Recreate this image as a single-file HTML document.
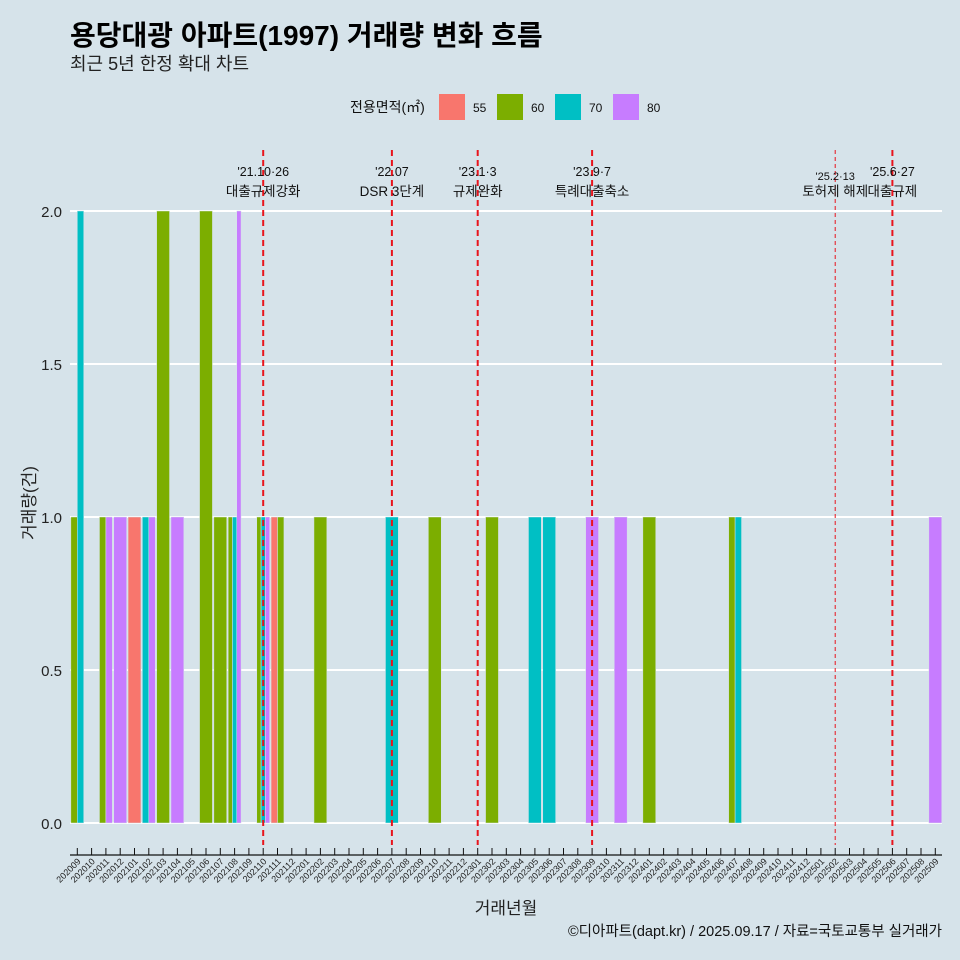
<!DOCTYPE html>
<html><head><meta charset="utf-8"><style>
html,body{margin:0;padding:0;background:#d6e3ea;}
svg{display:block;font-family:"Liberation Sans","Noto Sans CJK KR",sans-serif;}
</style></head><body>
<svg id="chart" width="960" height="960" viewBox="0 0 960 960">
<rect width="960" height="960" fill="#d6e3ea"/>
<text x="70" y="45" font-size="28" font-weight="bold" fill="#000">용당대광 아파트(1997) 거래량 변화 흐름</text>
<text x="70" y="70" font-size="18" fill="#222">최근 5년 한정 확대 차트</text>
<g id="legend">
<text x="350" y="112" font-size="14" fill="#111">전용면적(㎡)</text>
</g>
<g id="grid"></g><g id="bars"></g><g id="events"></g><g id="axes"></g>
<text x="506" y="914" font-size="17" text-anchor="middle" fill="#222">거래년월</text>
<text transform="translate(35,503) rotate(-90)" font-size="17" text-anchor="middle" fill="#222">거래량(건)</text>
<text x="942" y="936" font-size="14.5" text-anchor="end" fill="#111">©디아파트(dapt.kr) / 2025.09.17 / 자료=국토교통부 실거래가</text>
</svg>
<script>
const months = [];
for (let y = 2020, m = 9; months.length < 61; m++) { if (m > 12) { m = 1; y++; } months.push(String(y) + String(m).padStart(2, '0')); }
const areas = ['55', '60', '70', '80'];
const colors = ['#f8766d', '#7cae00', '#00bfc4', '#c77cff'];
const c55 = [0,0,0,0,1,0,0,0,0,0,0,0,0,0,1,0,0,0,0,0,0,0,0,0,0,0,0,0,0,0,0,0,0,0,0,0,0,0,0,0,0,0,0,0,0,0,0,0,0,0,0,0,0,0,0,0,0,0,0,0,0];
const c60 = [1,0,1,0,0,0,2,0,0,2,1,1,0,1,1,0,0,1,0,0,0,0,0,0,0,1,0,0,0,1,0,0,0,0,0,0,0,0,0,0,1,0,0,0,0,0,1,0,0,0,0,0,0,0,0,0,0,0,0,0,0];
const c70 = [2,0,0,0,0,1,0,0,0,0,0,1,0,1,0,0,0,0,0,0,0,0,1,0,0,0,0,0,0,0,0,0,1,1,0,0,0,0,0,0,0,0,0,0,0,0,1,0,0,0,0,0,0,0,0,0,0,0,0,0,0];
const c80 = [0,0,1,1,0,1,0,1,0,0,0,2,0,1,0,0,0,0,0,0,0,0,0,0,0,0,0,0,0,0,0,0,0,0,0,0,1,0,1,0,0,0,0,0,0,0,0,0,0,0,0,0,0,0,0,0,0,0,0,0,1];
const yTicks = [0, 0.5, 1.0, 1.5, 2.0];
const eventMonths = ['202110', '202207', '202301', '202309', '202502', '202506'];
const eventDates = ["'21.10·26", "'22.07", "'23.1·3", "'23.9·7", "'25.2·13", "'25.6·27"];
const eventLabels = ['대출규제강화', 'DSR 3단계', '규제완화', '특례대출축소', '토허제 해제', '대출규제'];
const eventThin = [false, false, false, false, true, false];

const NS = 'http://www.w3.org/2000/svg';
const step = 14.3, x0 = 77.3;
const xScale = i => x0 + i * step;
const yScale = v => 823 - v * 306;
function mk(tag, attrs, parent, text) {
  const e = document.createElementNS(NS, tag);
  for (const k in attrs) e.setAttribute(k, attrs[k]);
  if (text !== undefined) e.textContent = text;
  parent.appendChild(e); return e;
}
const series = [c55, c60, c70, c80];
const lg = document.getElementById('legend');
const lx = [439, 497, 555, 613];
areas.forEach((a, k) => {
  const r = mk('rect', {x: lx[k], y: 94, width: 26, height: 26, fill: colors[k]}, lg);
  
  
  const t = mk('text', {x: lx[k] + 34, y: 112, 'font-size': 12, fill: '#111'}, lg, a);
  
  
});
const grid = document.getElementById('grid');
yTicks.forEach(v => {
  const l = mk('line', {x1: 70, x2: 942, y1: yScale(v), y2: yScale(v), stroke: '#fff', 'stroke-width': 2}, grid);
  
  
  const t = mk('text', {x: 62, y: yScale(v) + 6, 'font-size': 15, 'text-anchor': 'end', fill: '#222'}, grid, v.toFixed(1));
  
  
});
const bg = document.getElementById('bars');
months.forEach((mo, i) => {
  const present = [];
  series.forEach((s, k) => { if (s[i] > 0) present.push(k); });
  if (!present.length) return;
  const w = 0.9 * step / present.length;
  const left = xScale(i) - 0.45 * step;
  present.forEach((k, j) => {
    const v = series[k][i];
    const r = mk('rect', {x: left + j * w, y: yScale(v), width: w, height: yScale(0) - yScale(v), fill: colors[k], stroke: '#d6e3ea', 'stroke-width': 0.5}, bg);
    
    
  });
});
const eg = document.getElementById('events');
eventMonths.forEach((mo, k) => {
  const x = xScale(months.indexOf(mo));
  const l = mk('line', {x1: x, x2: x, y1: 150, y2: 845, stroke: '#e8141c', 'stroke-width': eventThin[k] ? 1 : 2, 'stroke-dasharray': eventThin[k] ? '4,3' : '6,4'}, eg);
  
  
  const fs = eventThin[k] ? 11 : 12.5;
  const dy = eventThin[k] ? 4 : 0;
  const t1 = mk('text', {x: x, y: 176 + dy, 'font-size': fs, 'text-anchor': 'middle', fill: '#111'}, eg, eventDates[k]);
  
  
  const t2 = mk('text', {x: x, y: 196, 'font-size': 13.5, 'text-anchor': 'middle', fill: '#111'}, eg, eventLabels[k]);
  
  
});
const ax = document.getElementById('axes');
const al = mk('line', {x1: 70, x2: 942, y1: 855, y2: 855, stroke: '#111', 'stroke-width': 1.2}, ax);


months.forEach((mo, i) => {
  const x = xScale(i);
  const tk = mk('line', {x1: x, x2: x, y1: 848, y2: 855, stroke: '#111', 'stroke-width': 1}, ax);
  
  
  const t = mk('text', {transform: 'translate(' + (x + 4) + ',862) rotate(-45)', 'font-size': 9, 'text-anchor': 'end', fill: '#222'}, ax, mo);
  
  
});
</script>
</body></html>
